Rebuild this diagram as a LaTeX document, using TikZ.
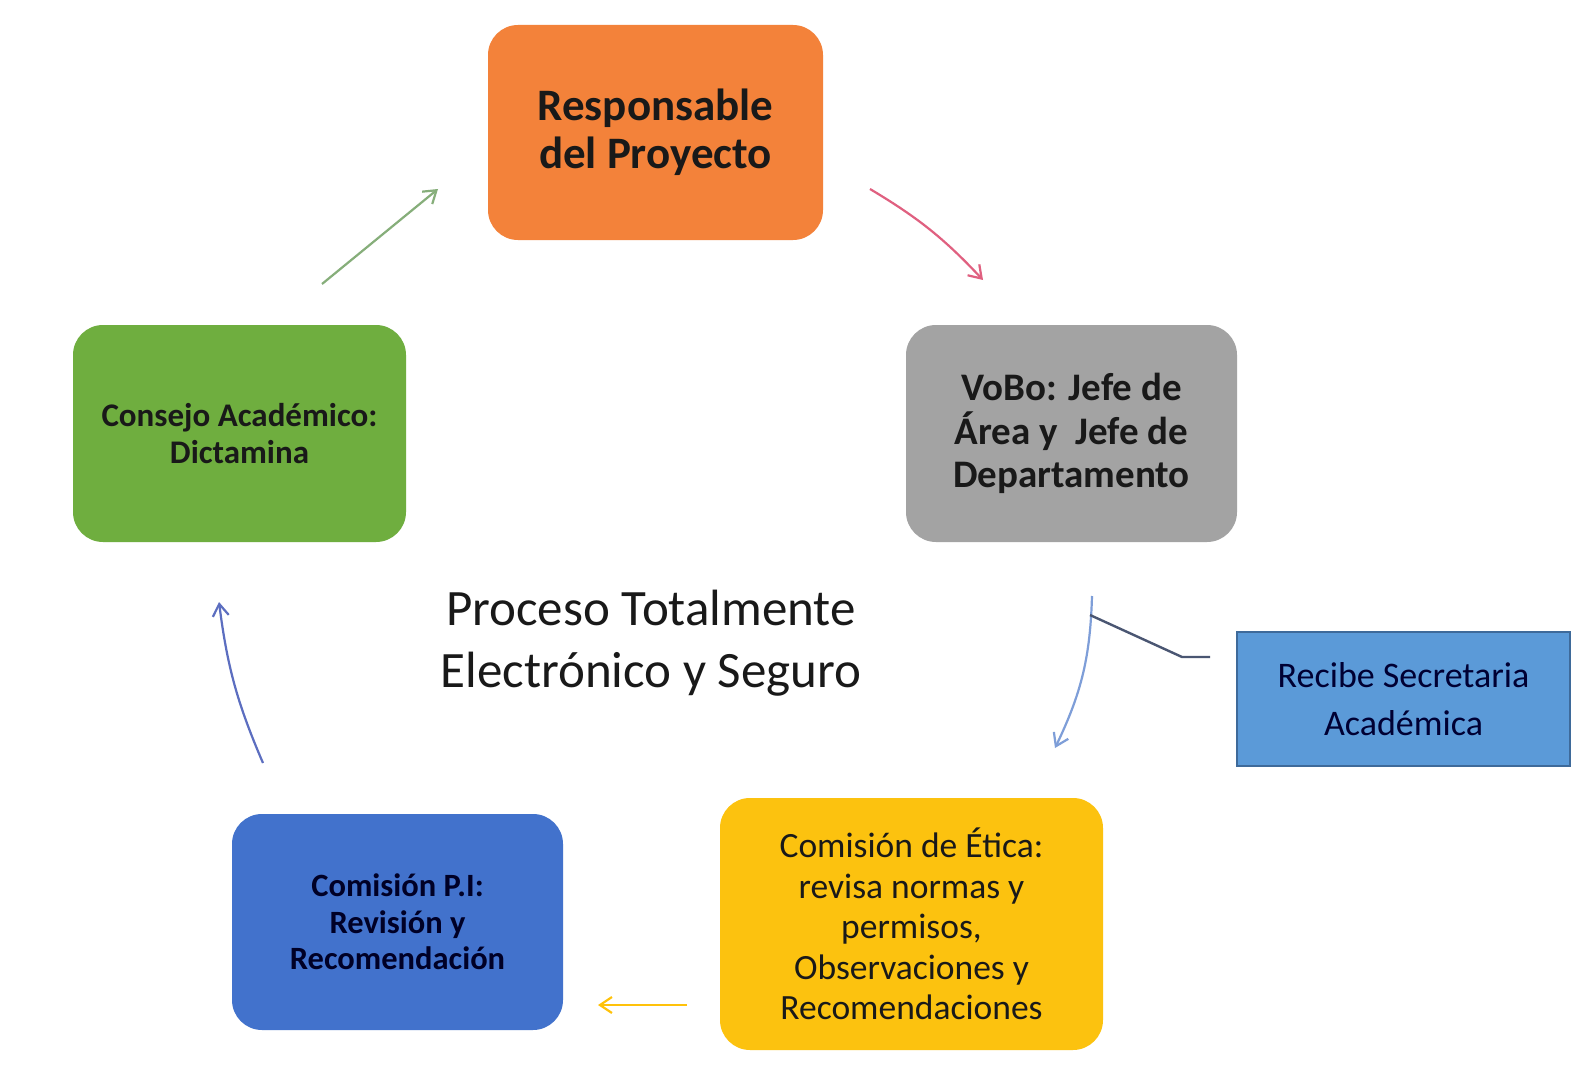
\documentclass[tikz,border=0pt]{standalone}
\usepackage{fontspec}
\setmainfont{Carlito}
\usetikzlibrary{arrows.meta}
\definecolor{corange}{HTML}{F3823A}
\definecolor{cgray}{HTML}{A3A3A3}
\definecolor{cgreen}{HTML}{6FAE3F}
\definecolor{cblue}{HTML}{4272CC}
\definecolor{cyellow}{HTML}{FCC20F}
\definecolor{crecibe}{HTML}{5B9AD8}
\definecolor{crecibeborder}{HTML}{3E6A9A}
\definecolor{agreen}{HTML}{86AE7A}
\definecolor{ared}{HTML}{E06080}
\definecolor{ablue}{HTML}{7E9ED8}
\definecolor{aleft}{HTML}{5C6EC0}
\definecolor{acallout}{HTML}{4A5672}
\definecolor{ayellow}{HTML}{FFC20A}
\tikzset{
  box/.style={rounded corners=30pt, inner sep=0pt, align=center, text=black!90},
  arr/.style={line width=2.2pt, -{Straight Barb[length=12pt,width=16pt,line width=2.2pt]}},
}
\begin{document}
\begin{tikzpicture}[x=1pt,y=-1pt]
\useasboundingbox[fill=white] (0,0) rectangle (1583,1070);

\node[box, fill=corange, minimum width=335pt, minimum height=215pt,
  font=\bfseries\fontsize{45}{48}\selectfont] (resp) at (655.5,132.5)
  {Responsable\\del Proyecto};
\node[box, fill=cgray, minimum width=331pt, minimum height=217pt,
  font=\bfseries\fontsize{39}{43.4}\selectfont] (vobo) at (1071.5,433.5)
  {VoBo: Jefe de\\Área y\ \ Jefe de\\Departamento};
\node[box, fill=cgreen, minimum width=333pt, minimum height=217pt,
  font=\bfseries\fontsize{33}{37.4}\selectfont] (consejo) at (239.5,433.5)
  {Consejo Académico:\\Dictamina};
\node[box, fill=cblue, minimum width=331pt, minimum height=216pt,
  font=\bfseries\fontsize{32.5}{36.3}\selectfont, text=black!85!blue] (pi) at (397.5,922)
  {Comisión P.I:\\Revisión y\\Recomendación};
\node[box, fill=cyellow, minimum width=383pt, minimum height=252pt,
  font=\fontsize{35.5}{40.4}\selectfont] (etica) at (911.5,924)
  {\raisebox{4pt}{\parbox{380pt}{\centering Comisión de Ética:\\revisa normas y\\permisos,\\Observaciones y\\Recomendaciones}}};
\node[inner sep=0pt, align=center, fill=crecibe, draw=crecibeborder, line width=1.5pt,
  minimum width=333pt, minimum height=134pt, text=black!80!blue,
  font=\fontsize{36}{48}\selectfont] (recibe) at (1403.5,699)
  {\raisebox{5pt}{\parbox{330pt}{\centering Recibe Secretaria\\Académica}}};
\node[inner sep=0pt, align=center, font=\fontsize{51}{62}\selectfont, text=black!90] (titulo) at (651,643)
  {Proceso Totalmente\\Electrónico y Seguro};

\coordinate (g1) at (322,284);
\coordinate (g2) at (438,189);
\coordinate (r1) at (870,189);
\coordinate (r2) at (983,280);
\coordinate (b1) at (1092,596);
\coordinate (bj) at (1090,615);
\coordinate (b2) at (1055,748);
\coordinate (c1) at (1210,657);
\coordinate (c2) at (1182,657);
\coordinate (l1) at (263,763);
\coordinate (l2) at (219,602);
\coordinate (y1) at (687,1005);
\coordinate (y2) at (598,1005);

\draw[arr, agreen] (g1) -- (g2);
\draw[arr, ared] (r1) to[bend left=8] (r2);
\draw[arr, ablue] (b1) to[bend left=12] (b2);
\draw[line width=2.4pt, acallout] (c1) -- (c2) -- (bj);
\draw[arr, aleft] (l1) to[bend left=8] (l2);
\draw[arr, ayellow, line width=2.8pt] (y1) -- (y2);
\end{tikzpicture}
\end{document}
